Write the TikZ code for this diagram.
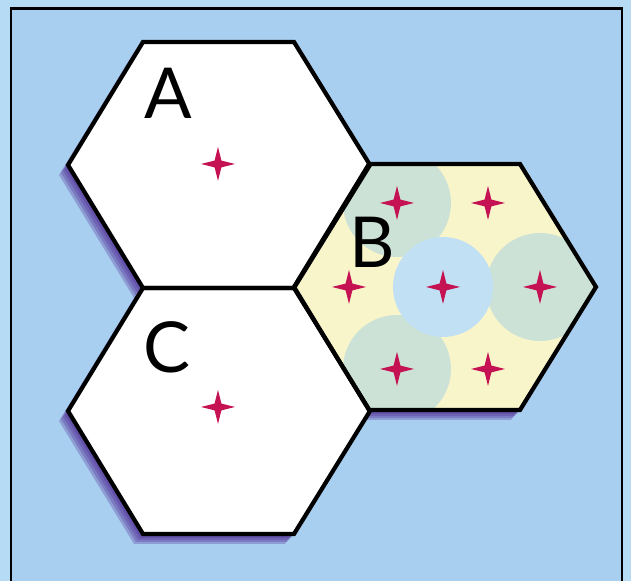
\documentclass[tikz,border=0pt]{standalone}
\usepackage{fontspec}
\setsansfont{Lato}
\definecolor{fond}{RGB}{169,207,240}
\definecolor{marge}{RGB}{182,219,245}
\definecolor{ombre}{RGB}{80,45,150}
\definecolor{etoile}{RGB}{196,18,82}
\definecolor{vert}{RGB}{204,226,214}
\definecolor{jaune}{RGB}{249,245,203}
\definecolor{bleu}{RGB}{194,224,244}
\tikzset{
	contour/.style={draw=black,line width=1.2pt,line join=miter},
	lettre/.style={font=\sffamily\fontsize{20}{24}\selectfont,inner sep=0pt},
	etincelle/.pic={\fill[etoile] (0,-17) -- (3.4,-3.4) -- (17,0) -- (3.4,3.4) -- (0,17) -- (-3.4,3.4) -- (-17,0) -- (-3.4,-3.4) -- cycle;}
}
\begin{document}
\begin{tikzpicture}[x=0.1mm,y=-0.1mm]
	% Contour d'un hexagone (centre en 0,0)
	\def\hexpath{(-151,0) -- (-76,-123) -- (75,-123) -- (151,0) -- (75,123) -- (-76,123) -- cycle}
	\useasboundingbox (0,0) rectangle (631,581);
	%
	% Fond et cadre
	\fill[marge] (0,0) rectangle (631,581);
	\fill[fond] (11,9) rectangle (622,581);
	\draw[line width=0.85pt] (11,581) -- (11,9) -- (622,9) -- (622,581);
	%
	% Centres des cellules
	\coordinate (hA) at (219,165);
	\coordinate (hC) at (219,411);
	\coordinate (hB) at (445,287);
	%
	% Ombres
	\foreach \c in {hA,hB,hC}{
		\foreach \dx/\dy in {-9/10,-7/8,-5/6,-3/4}{
			\fill[ombre,opacity=0.3,shift={(\c)},shift={(\dx,\dy)}] \hexpath;
		};
	};
	\fill[white,shift={(hA)}] \hexpath;
	\fill[white,shift={(hC)}] \hexpath;
	%
	% Petites cellules dans B
	\begin{scope}
		\clip[shift={(hB)}] \hexpath;
		\fill[jaune,shift={(hB)}] \hexpath;
		\foreach \px/\py in {488/203,349/287,488/369}{
			\fill[jaune] (\px,\py) circle (54);
		};
		\foreach \px/\py in {397/203,540/287,397/369}{
			\fill[vert] (\px,\py) circle (54);
		};
		\fill[bleu] (443,287) circle (50);
	\end{scope}
	%
	\foreach \c in {hA,hB,hC}{
		\path[contour,shift={(\c)}] \hexpath;
	};
	%
	% Emetteurs
	\foreach \px/\py in {218/164,218/407,397/203,488/203,349/287,443/287,540/287,397/369,488/369}{
		\pic at (\px,\py) {etincelle};
	};
	%
	% Noms des cellules
	\node[lettre] (labA) at (168,93) {A};
	\node[lettre] (labB) at (372,242) {B};
	\node[lettre] (labC) at (167,347) {C};
\end{tikzpicture}
\end{document}
